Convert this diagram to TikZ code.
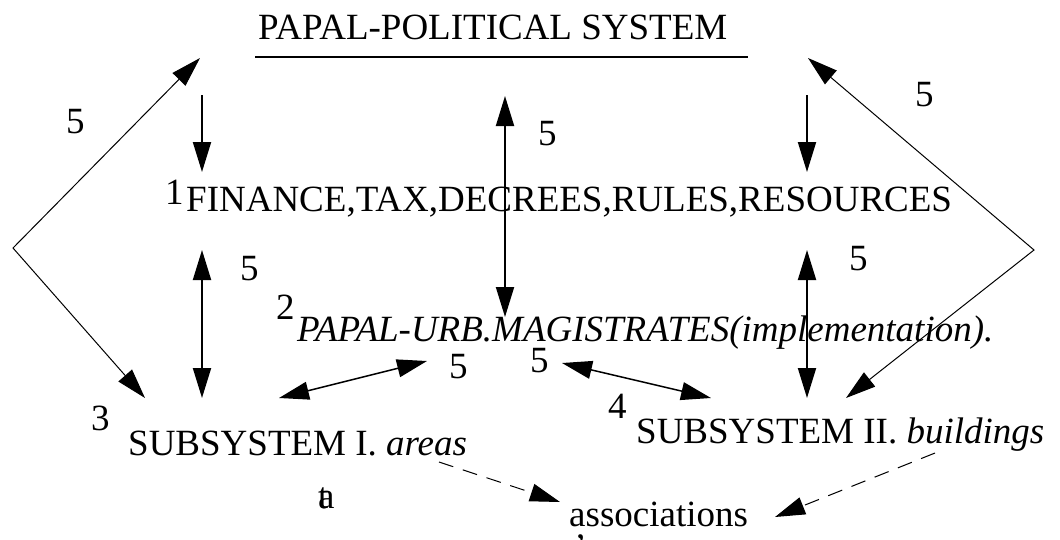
\documentclass[tikz,border=0pt]{standalone}
\usepackage{fontspec}
\setmainfont{Liberation Serif}
\usepackage{tikz}
\usetikzlibrary{arrows.meta}

\begin{document}
\begin{tikzpicture}[x=1pt,y=-1pt,
		>={Triangle[length=30pt,width=18pt]},
		txt/.style={anchor=base west,inner sep=0pt,font=\fontsize{37pt}{40pt}\selectfont},
		heavy/.style={line width=2pt},
		light/.style={line width=1pt},
		assoc/.style={line width=1pt,dash pattern=on 15pt off 10pt}]
				\useasboundingbox (0,0) rectangle (1060,539);
				% texts
				\node[txt] (t_pol) at (258,39) {PAPAL-POLITICAL SYSTEM};
				\node[txt] (t_fin) at (186,211) {FINANCE,TAX,DECREES,RULES,RESOURCES};
				\node[txt] (t_mag) at (297,341) {\itshape PAPAL-URB.MAGISTRATES(implementation).};
				\node[txt] (t_s1) at (128,455) {SUBSYSTEM I. \itshape areas};
				\node[txt] (t_s2) at (636,443) {SUBSYSTEM II. \itshape buildings};
				\node[txt] (t_as) at (569,526) {associations};
				\node[txt] (n_1) at (165,204) {1};
				\node[txt] (n_2) at (276,319) {2};
				\node[txt] (n_3) at (91,430) {3};
				\node[txt] (n_4) at (608,418) {4};
				\node[txt] (n_a) at (318,508) {\rlap{a}t};
				\node[txt] (n_c) at (576,538) {,};
				% weights
				\foreach \x/\y [count=\i] in {66/133,240/280,538/145,915/106,849/270,449/378,530/372}
					\node[txt] (w_\i) at (\x,\y) {5};
				% arrow ends
				\coordinate (p_l) at (202,95);   \coordinate (f_l) at (202,172);
				\coordinate (f_lb) at (202,250); \coordinate (s_lt) at (202,398);
				\coordinate (p_r) at (807,95);   \coordinate (f_r) at (807,172);
				\coordinate (f_rb) at (807,250); \coordinate (s_rt) at (807,398);
				\coordinate (p_m) at (505,96);   \coordinate (m_m) at (505,317);
				\coordinate (p_lc) at (200,58);  \coordinate (c_l) at (13,248);  \coordinate (s_lc) at (145,398);
				\coordinate (p_rc) at (808,58);  \coordinate (c_r) at (1034,250); \coordinate (s_rc) at (846,398);
				\coordinate (s_lm) at (279,398); \coordinate (m_l) at (427,361);
				\coordinate (m_r) at (562,363);  \coordinate (s_rm) at (711,398);
				\coordinate (s_ld) at (439,462); \coordinate (a_l) at (560,502);
				\coordinate (s_rd) at (935,453); \coordinate (a_r) at (775,517);
				% connectors
				\draw[heavy] (255,57) -- (748,57);
				\draw[heavy,->] (p_l) -- (f_l);
				\draw[heavy,->] (p_r) -- (f_r);
				\draw[heavy,<->] (f_lb) -- (s_lt);
				\draw[heavy,<->] (f_rb) -- (s_rt);
				\draw[heavy,<->] (p_m) -- (m_m);
				\draw[light,<->] (p_lc) -- (c_l) -- (s_lc);
				\draw[light,<->] (p_rc) -- (c_r) -- (s_rc);
				\draw[line width=1.5pt,<->] (s_lm) -- (m_l);
				\draw[line width=1.5pt,<->] (m_r) -- (s_rm);
				\draw[assoc,->] (s_ld) -- (a_l);
				\draw[assoc,->] (s_rd) -- (a_r);
			\end{tikzpicture}
\end{document}
